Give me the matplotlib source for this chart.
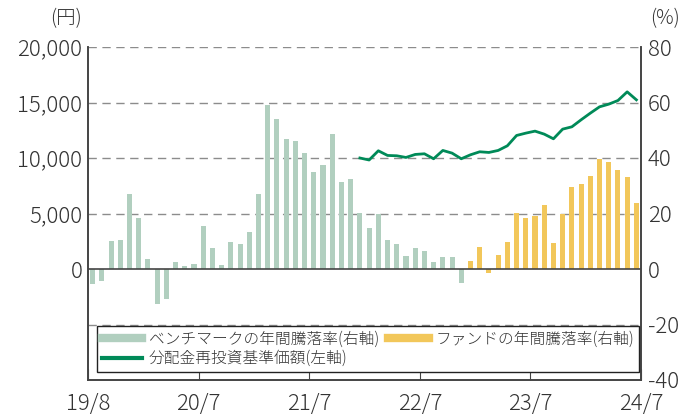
import matplotlib.pyplot as plt
from matplotlib.lines import Line2D

plt.rcParams['font.family'] = ['Noto Sans CJK JP', 'DejaVu Sans']
plt.rcParams['font.weight'] = 'light'
plt.rcParams['axes.unicode_minus'] = False

# 月次（19/8〜24/7、60か月）
xlabels = ['19/8', '20/7', '21/7', '22/7', '23/7', '24/7']

# ベンチマークの年間騰落率（%）19/8〜22/12
bench = [-5.5, -4.4, 10.0, 10.6, 27.1, 18.5, 3.7, -12.7, -10.9, 2.4,
         1.2, 1.9, 15.6, 7.7, 1.6, 9.6, 9.1, 13.4, 27.1, 59.2,
         54.1, 46.7, 46.2, 41.9, 35.0, 37.6, 48.7, 31.4, 32.5, 20.2,
         14.9, 19.9, 10.6, 9.1, 4.8, 7.7, 6.6, 2.6, 4.4, 4.4,
         -5.2]
# ファンドの年間騰落率（%）23/1〜24/7
fund = [3.0, 8.0, -1.6, 5.2, 9.8, 20.3, 18.5, 19.2, 23.2, 9.5,
        19.7, 29.4, 30.7, 33.4, 39.7, 38.6, 35.8, 33.0, 23.9]
# 分配金再投資基準価額（円）22/1〜24/7
nav = [10000, 9820, 10650, 10230, 10200, 10050, 10320, 10380, 9930, 10680,
       10440, 9930, 10290, 10560, 10500, 10680, 11100, 12030, 12240, 12420,
       12150, 11730, 12600, 12810, 13440, 14040, 14610, 14850, 15180, 15960,
       15240]

c_bench = '#b1cfbf'
c_fund = '#f2c75a'
c_nav = '#008a58'
c_txt = '#333333'
c_ax = '#444444'

fig = plt.figure(figsize=(6.85, 4.16), dpi=100)
ax = fig.add_axes([88/685, 1-380/416, 553/685, 333/416])
ax2 = ax.twinx()

xb = [i + 0.5 for i in range(len(bench))]
xf = [len(bench) + i + 0.5 for i in range(len(fund))]
xn = [60 - len(nav) + i + 0.5 for i in range(len(nav))]

for v in [-20, 20, 40, 60, 80]:
    ax2.axhline(v, color='#8c8c8c', lw=1.0, ls=(0, (6, 4)), zorder=0)
ax2.bar(xb, bench, width=0.55, color=c_bench, zorder=2)
ax2.bar(xf, fund, width=0.55, color=c_fund, zorder=2)
ax2.axhline(0, color=c_ax, lw=1.2, zorder=3)

ax.plot(xn, nav, color=c_nav, lw=2.0, zorder=4)
ax.set_zorder(ax2.get_zorder() + 1)
ax.patch.set_visible(False)

ax.set_xlim(0, 60)
ax.set_ylim(-10000, 20000)
ax2.set_ylim(-40, 80)
ax.set_yticks(range(0, 20001, 5000))
ax.set_yticklabels([f'{v:,}' for v in range(0, 20001, 5000)])
ax2.set_yticks(range(-40, 81, 20))
ax.set_xticks(range(0, 61, 12))
ax.set_xticklabels(xlabels)

ax.tick_params(axis='y', length=0, pad=4, labelsize=16, labelcolor=c_txt)
ax2.tick_params(axis='y', length=0, pad=5, labelsize=16, labelcolor=c_txt)
ax.tick_params(axis='x', direction='in', length=8, color=c_ax, pad=9,
               labelsize=16, labelcolor=c_txt)

for a in (ax, ax2):
    a.spines['top'].set_visible(False)
    for s in ('left', 'right', 'bottom'):
        a.spines[s].set_color(c_ax)
        a.spines[s].set_linewidth(1.2)

fig.text(82/685, 1-19/416, '(円)', ha='right', va='center', fontsize=14, color=c_txt)
fig.text(650/685, 1-19/416, '(%)', ha='left', va='center', fontsize=14, color=c_txt)

handles = [Line2D([], [], color=c_bench, lw=6),
           Line2D([], [], color=c_nav, lw=3),
           Line2D([], [], color=c_fund, lw=6)]
labels = ['ベンチマークの年間騰落率(右軸)', '分配金再投資基準価額(左軸)',
          'ファンドの年間騰落率(右軸)']
leg = ax.legend(handles, labels, ncol=2, loc='lower left',
                bbox_to_anchor=(0.016, 0.024), fontsize=11.3, frameon=True,
                fancybox=False, edgecolor='#222222', framealpha=1,
                handlelength=2.6, handletextpad=0.4, columnspacing=0.6,
                borderpad=0.3, labelspacing=0.15, borderaxespad=0)
leg.get_frame().set_linewidth(1.0)
for t in leg.get_texts():
    t.set_color(c_txt)

fig.savefig('out.png', dpi=100)
